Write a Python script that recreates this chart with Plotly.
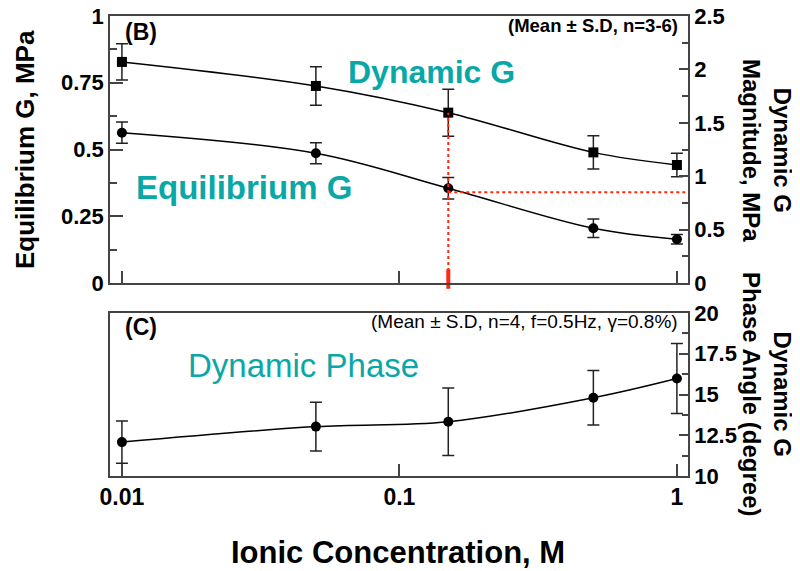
import plotly.graph_objects as go

# ---------------- data ----------------
conc = [0.01, 0.05, 0.15, 0.5, 1.0]
dyn_G = [2.07, 1.845, 1.595, 1.223, 1.105]          # Dynamic G magnitude, MPa (right axis)
dyn_G_err = [0.17, 0.18, 0.22, 0.155, 0.11]
eq_G = [0.563, 0.486, 0.355, 0.205, 0.164]          # Equilibrium G, MPa (left axis)
eq_G_err = [0.04, 0.039, 0.04, 0.035, 0.018]
phase = [12.08, 13.03, 13.33, 14.8, 15.98]          # Dynamic G phase angle, degree
phase_err = [1.3, 1.5, 2.07, 1.67, 2.15]

ref_conc = 0.15        # red guide line position
ref_level = 0.34       # red horizontal guide (left axis units)

x_tickvals = [0.01, 0.1, 1]
x_ticktext = ["0.01", "0.1", "1"]
y1_ticks = [0, 0.25, 0.5, 0.75, 1]
y1_ticktext = ["0", "0.25", "0.5", "0.75", "1"]

# ---------------- styles ----------------
FONT = "Liberation Sans, Arial, Helvetica, sans-serif"
TEAL = "#0aa7a7"
RED = "#ff2a10"
FRAME = "#444444"
OFF = 8                      # default page body margin
W, H = 800 - OFF, 571 - OFF
ML, MR, MT, MB = 110 - OFF, 112, 16 - OFF, 95
PW, PH = W - ML - MR, H - MT - MB


def px(xp):
    return (xp - OFF - ML) / PW


def py(yp):
    return (H + OFF - MB - yp) / PH


tickfont = dict(family=FONT, size=22, color="black", weight="bold")
err_style = dict(type="data", thickness=1.5, width=6, color="#222222")

fig = go.Figure()

# Equilibrium G (circles, left axis of top panel)
fig.add_trace(go.Scatter(
    x=conc, y=eq_G, xaxis="x2", yaxis="y", mode="lines+markers",
    line=dict(color="black", width=1.5, shape="spline", smoothing=1.0),
    marker=dict(symbol="circle", size=10, color="black"),
    error_y=dict(array=eq_G_err, **err_style), showlegend=False))

# Dynamic G (squares, right axis of top panel)
fig.add_trace(go.Scatter(
    x=conc, y=dyn_G, xaxis="x2", yaxis="y2", mode="lines+markers",
    line=dict(color="black", width=1.5, shape="spline", smoothing=1.0),
    marker=dict(symbol="square", size=10, color="black"),
    error_y=dict(array=dyn_G_err, **err_style), showlegend=False))

# red guide lines
fig.add_trace(go.Scatter(
    x=[ref_conc, ref_conc], y=[0, dyn_G[2]], xaxis="x2", yaxis="y2", mode="lines",
    line=dict(color=RED, width=2, dash="dot"), showlegend=False, hoverinfo="skip"))
fig.add_trace(go.Scatter(
    x=[ref_conc, 1.12], y=[ref_level, ref_level], xaxis="x2", yaxis="y", mode="lines",
    line=dict(color=RED, width=2, dash="dot"), showlegend=False, hoverinfo="skip"))
fig.add_trace(go.Scatter(
    x=[ref_conc], y=[0.015], xaxis="x2", yaxis="y", mode="markers",
    marker=dict(symbol="line-ns-open", size=14, color=RED,
                line=dict(color=RED, width=4)),
    cliponaxis=False, showlegend=False, hoverinfo="skip"))

# Phase angle (bottom panel)
fig.add_trace(go.Scatter(
    x=conc, y=phase, xaxis="x", yaxis="y3", mode="lines+markers",
    line=dict(color="black", width=1.5, shape="spline", smoothing=1.0),
    marker=dict(symbol="circle", size=10, color="black"),
    error_y=dict(array=phase_err, **err_style), showlegend=False))

xrange = [-2.043, 0.040]
axis_line = dict(showline=True, linecolor=FRAME, linewidth=1.5, showgrid=False,
                 zeroline=False, automargin=False, ticklabeloverflow="allow")

fig.update_layout(
    template="none",
    width=W, height=H,
    margin=dict(l=ML, r=MR, t=MT, b=MB, pad=0),
    paper_bgcolor="white", plot_bgcolor="white",
    font=dict(family=FONT, color="black"),
    showlegend=False,
    xaxis=dict(domain=[0, 1], anchor="y3", type="log", range=xrange,
               tickmode="array", tickvals=x_tickvals, ticktext=x_ticktext,
               ticks="inside", ticklen=12, tickwidth=1.5, tickcolor=FRAME,
               mirror=True, tickfont=dict(tickfont, size=23), **axis_line),
    xaxis2=dict(domain=[0, 1], anchor="y", type="log", range=xrange,
                tickmode="array", tickvals=x_tickvals,
                ticks="inside", ticklen=12, tickwidth=1.5, tickcolor=FRAME,
                showticklabels=False, mirror=True, **axis_line),
    yaxis=dict(domain=[py(283), 1], anchor="x2", range=[0, 1],
               tickmode="array", tickvals=y1_ticks, ticktext=y1_ticktext,
               ticks="inside", ticklen=13, tickwidth=1.5, tickcolor=FRAME,
               minor=dict(ticks="inside", ticklen=7, tickwidth=1.5, tickcolor=FRAME,
                          tick0=0, dtick=0.125),
               mirror=True, tickfont=tickfont, **axis_line),
    yaxis2=dict(overlaying="y", side="right", anchor="x2", range=[0, 2.5],
                tick0=0, dtick=0.5,
                ticks="inside", ticklen=9, tickwidth=1.5, tickcolor=FRAME,
                minor=dict(ticks="inside", ticklen=6, tickwidth=1.5, tickcolor=FRAME,
                           tick0=0, dtick=0.25),
                tickfont=tickfont, **axis_line),
    yaxis3=dict(domain=[0, py(313)], anchor="x", side="right", range=[10, 20],
                tick0=10, dtick=2.5,
                ticks="inside", ticklen=9, tickwidth=1.5, tickcolor=FRAME,
                minor=dict(ticks="inside", ticklen=6, tickwidth=1.5, tickcolor=FRAME,
                           tick0=10, dtick=1.25),
                mirror=True, tickfont=tickfont, **axis_line),
)

ann = []


def add_text(text, xp, yp, size, color="black", bold=True, xanchor="left",
             angle=0):
    ann.append(dict(text=text, xref="paper", yref="paper", x=px(xp), y=py(yp),
                    xanchor=xanchor, yanchor="middle", showarrow=False,
                    textangle=angle,
                    font=dict(family=FONT, size=size, color=color,
                              weight="bold" if bold else "normal")))


add_text("(B)", 123, 32, 23)
add_text("(Mean ± S.D, n=3-6)", 680, 25, 18.5, xanchor="right")
add_text("(C)", 123, 327, 23)
add_text("(Mean ± S.D, n=4, f=0.5Hz, γ=0.8%)", 680, 322, 19, bold=False,
         xanchor="right")
add_text("Dynamic G", 346, 72, 32, color=TEAL)
add_text("Equilibrium G", 134, 188, 33, color=TEAL)
add_text("Dynamic Phase", 186, 365, 33, color=TEAL, bold=False)

add_text("Equilibrium G, MPa", 25, 150, 26, xanchor="center", angle=-90)
add_text("Dynamic G<br>Magnitude, MPa", 767, 150, 24, xanchor="center", angle=90)
add_text("Dynamic G<br>Phase Angle (degree)", 767, 394, 24, xanchor="center", angle=90)
add_text("Ionic Concentration, M", 398, 552, 31, xanchor="center")

fig.update_layout(annotations=ann)

fig.write_html("out.html")
